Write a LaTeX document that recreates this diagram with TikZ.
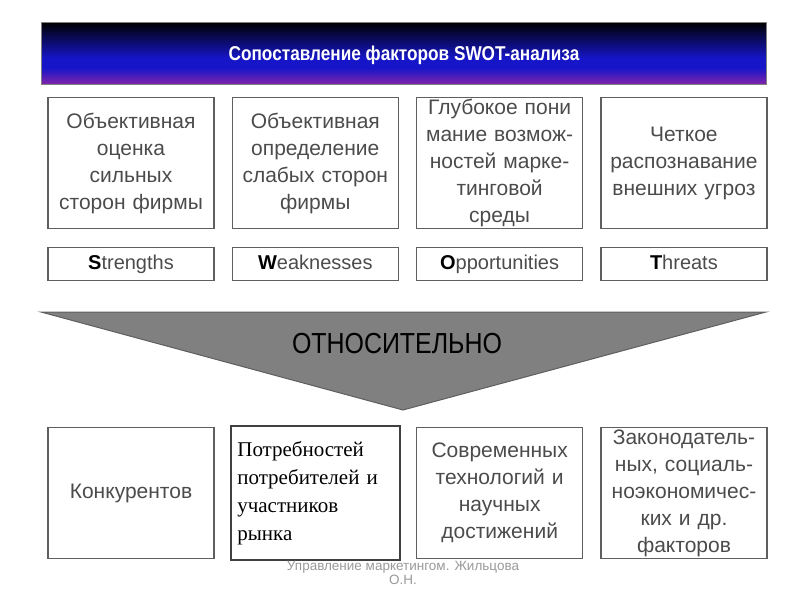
\documentclass[tikz,border=0pt]{standalone}
\usepackage{fontspec}
\setmainfont{Liberation Sans}
\newfontfamily\serifface{Liberation Serif}
\newfontfamily\narrowface[FakeStretch=0.86]{Liberation Sans}
\usetikzlibrary{positioning}

\definecolor{boxline}{RGB}{95,95,95}
\definecolor{boxtext}{RGB}{75,75,75}
\definecolor{arrowgray}{RGB}{128,128,128}
\definecolor{barblue}{RGB}{22,22,200}
\definecolor{barpurple}{RGB}{128,36,170}

\begin{document}
\begin{tikzpicture}[x=1pt,y=-1pt,
  factor/.style={draw=boxline,line width=1.3pt,minimum width=166pt,minimum height=131pt,
    text width=162pt,align=center,inner sep=0pt,text=boxtext,font=\fontsize{21}{27}\selectfont},
  tag/.style={draw=boxline,line width=1.3pt,minimum width=166pt,minimum height=33pt,
    text height=15pt,text depth=4pt,inner sep=0pt,text=boxtext,font=\fontsize{20}{24}\selectfont},
  serifbox/.style={draw=black!75,line width=2.4pt,minimum width=169pt,minimum height=134pt,
    text width=156pt,align=left,inner sep=0pt,text=black,font=\serifface\fontsize{21}{28}\selectfont}]

\useasboundingbox (0,0) rectangle (800,600);

% Header bar
\shade[top color=black,bottom color=barblue] (41,22) rectangle (766,58);
\fill[barblue] (41,58) rectangle (766,68);
\shade[top color=barblue,bottom color=barpurple] (41,68) rectangle (766,84);
\draw[gray,line width=1pt] (41,22) rectangle (766,84);
\node[text=white,font=\narrowface\bfseries\fontsize{20}{22}\selectfont] (title) at (404,55)
  {Сопоставление факторов SWOT-анализа};

% Upper row
\node[factor] (s) at (131,163) {Объективная\\оценка\\сильных\\сторон фирмы};
\node[factor,right=17pt of s] (w) {Объективная\\определение\\слабых сторон\\фирмы};
\node[factor,right=17pt of w] (o) {Глубокое пони\\мание возмож-\\ностей марке-\\тинговой\\среды};
\node[factor,right=17pt of o] (t) {Четкое\\распознавание\\внешних угроз};

% SWOT labels
\node[tag,below=18pt of s] (sl) {\textcolor{black}{\bfseries S}trengths};
\node[tag,below=18pt of w] (wl) {\textcolor{black}{\bfseries W}eaknesses};
\node[tag,below=18pt of o] (ol) {\textcolor{black}{\bfseries O}pportunities};
\node[tag,below=18pt of t] (tl) {\textcolor{black}{\bfseries T}hreats};

% Arrow
\coordinate (al) at (41,312);
\coordinate (ar) at (766,312);
\coordinate (tip) at (403,410);
\draw[boxline,line width=1pt,fill=arrowgray] (al) -- (ar) -- (tip) -- cycle;
\node[font=\narrowface\fontsize{29}{32}\selectfont] (rel) at (397,344) {ОТНОСИТЕЛЬНО};

% Lower row
\node[factor] (k) at (131,493) {Конкурентов};
\node[serifbox,right=15pt of k] (p) {Потребностей\\потребителей и\\участников\\рынка};
\node[factor,right=15pt of p] (m) {Современных\\технологий и\\научных\\достижений};
\node[factor,right=17pt of m] (z) {Законодатель-\\ных, социаль-\\ноэкономичес-\\ких и др.\\факторов};

% Footer
\node[text=black!40,font=\fontsize{13.5}{14}\selectfont,align=center] (foot) at (403,573)
  {Управление маркетингом. Жильцова\\О.Н.};

\end{tikzpicture}
\end{document}
